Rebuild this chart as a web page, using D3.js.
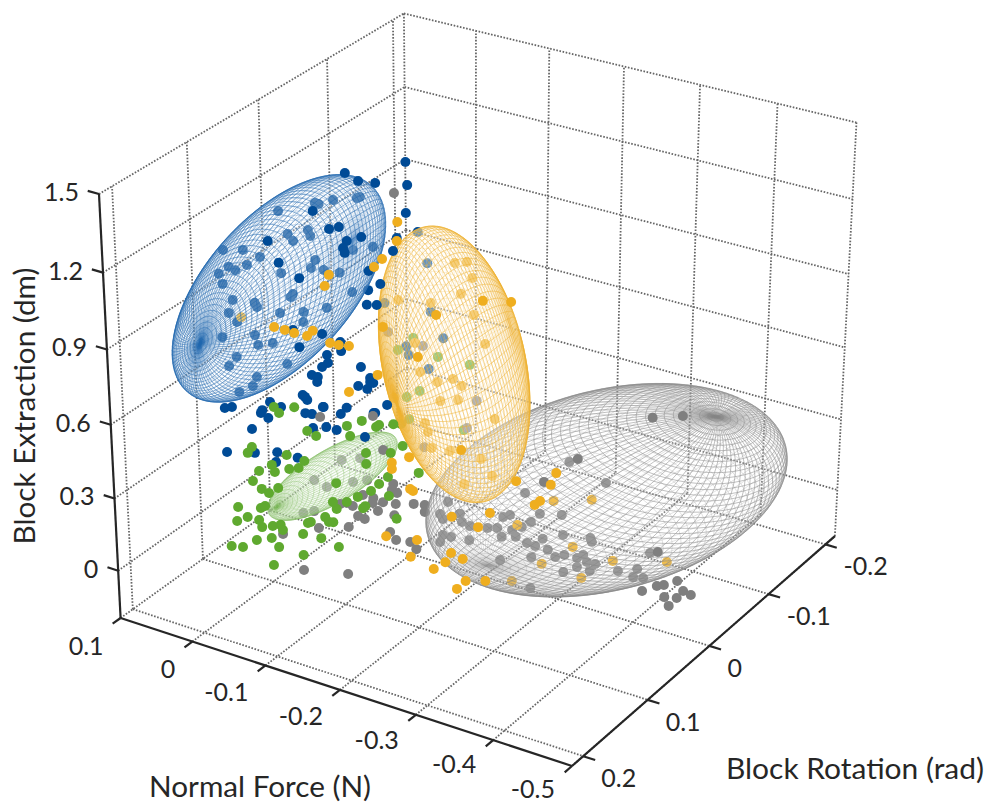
<!DOCTYPE html>
<html><head><meta charset="utf-8">
<script src="https://cdn.jsdelivr.net/npm/d3@7"></script>
<style>html,body{margin:0;background:#fff}svg{display:block}text{font-family:Lato,sans-serif;fill:#262626}</style>
</head><body><svg id="chart" width="988" height="803"></svg>
<script>
const xTicks = [0.1, 0, -0.1, -0.2, -0.3, -0.4, -0.5];
const yTicks = [0.2, 0.1, 0, -0.1, -0.2];
const zTicks = [0, 0.3, 0.6, 0.9, 1.2, 1.5];
const xLimits = [0.1, -0.5], yLimits = [0.217, -0.217], zLimits = [-0.2, 1.5];

// Every point is [normal force, block extraction]. Rotation can't be read off a flat
// picture, so each series sits on one estimated rotation.
const blueRotation = 0.1, greenRotation = 0.1, yellowRotation = 0, grayRotation = 0, grayNearRotation = 0.1;

const blueInsideBlue = [[0.056,1.114],[0.029,1.136],[0.006,1.127],[0.024,1.081],[0.049,1.053],[0.040,1.047],[0.063,1.014],[-0.020,1.326],[-0.032,1.247],[-0.039,1.225],
  [-0.059,1.284],[-0.062,1.263],[-0.069,1.396],[-0.074,1.396],[-0.093,1.426],[-0.124,1.458],[-0.128,1.465],[-0.068,1.175],[-0.062,1.139],[-0.022,1.086],
  [-0.079,1.145],[-0.100,1.151],[-0.118,1.254],[-0.144,1.287],[0.058,0.978],[0.045,0.925],[0.015,0.938],[0.012,0.924],[0.051,0.868],[0.040,0.841],
  [-0.037,1.016],[-0.034,1.002],[-0.116,1.089],[-0.137,1.114],[-0.019,0.926],[-0.051,0.957],[-0.082,0.999],[-0.050,0.916],[0.016,0.809],[0.012,0.772],
  [-0.008,0.797],[0.061,0.762],[0.042,0.698],[0.053,0.652],[-0.027,0.729],[0.015,0.640],[0.021,0.598],[0.040,0.557]];
const yellowInsideBlue = [[0.034,0.865]];
const blueOpen = [[-0.109,1.541],[-0.126,1.524],[-0.148,1.533],[-0.187,1.642],[-0.189,1.557],[-0.187,1.450],[-0.066,1.363],[-0.087,1.310],[-0.100,1.328],[-0.005,1.198],
  [-0.129,1.313],[-0.110,1.282],[-0.105,1.251],[-0.107,1.234],[-0.019,1.124],[-0.138,1.189],[-0.170,1.292],[-0.175,1.346],[-0.046,1.086],[-0.153,1.151],
  [-0.135,1.055],[-0.148,1.065],[-0.075,0.890],[-0.036,0.873],[-0.044,0.811],[-0.099,0.878],[-0.100,0.843],[-0.081,0.811],[-0.082,0.780],[-0.074,0.757],
  [-0.060,0.713],[-0.068,0.712],[-0.067,0.691],[-0.126,0.802],[-0.138,0.769],[-0.122,0.723],[-0.134,0.721],[-0.142,0.752],[-0.047,0.621],[-0.050,0.616],
  [-0.002,0.553],[-0.017,0.546],[-0.074,0.596],[-0.106,0.621],[0.051,0.486],[0.009,0.510],[0.061,0.473],[0.011,0.497],[0.001,0.485],[0.024,0.419],
  [-0.050,0.550],[-0.059,0.554],[-0.075,0.597],[-0.098,0.589],[-0.060,0.498],[-0.078,0.518],[-0.092,0.519],[-0.130,0.524],[0.060,0.291],[0.021,0.323],
  [-0.010,0.354],[-0.008,0.311],[-0.038,0.356],[-0.144,0.634],[-0.160,0.680],[-0.053,0.606],[-0.138,0.753],[-0.142,0.632]];
const yellowOpen = [[-0.085,1.160],[-0.084,1.084],[-0.064,0.996],[-0.053,0.955],[0.009,0.873],[0.015,0.823],[0.087,0.594],[0.072,0.595],[0.059,0.593],[0.041,0.596],
  [0.033,0.624],[0.009,0.594],[-0.003,0.596],[-0.017,0.604],[-0.056,0.518],[-0.016,0.412],[-0.074,0.166],[-0.074,0.140],[-0.098,0.212],[-0.099,0.078],
  [-0.103,0.073],[-0.065,-0.156],[-0.108,-0.132],[-0.099,-0.213],[-0.169,0.306],[-0.243,0.244],[-0.296,0.326],[-0.289,0.271],[-0.275,0.191],
  [-0.268,0.168],[-0.208,0.078],[-0.156,0.013],[-0.192,0.003],[-0.155,-0.143],[-0.147,-0.190],[-0.171,-0.153],[-0.131,-0.235],[-0.175,-0.244],
  [-0.163,-0.290],[-0.202,-0.218],[-0.198,0.939],[-0.235,0.965],[-0.136,0.831],[-0.111,0.639],[-0.064,0.722]];
const greenOpen = [[-0.007,0.537],[-0.014,0.519],[-0.035,0.561],[-0.052,0.479],[-0.064,0.469],[-0.106,0.548],[-0.126,0.586],[-0.145,0.578],[-0.149,0.590],[-0.110,0.510],
  [-0.168,0.610],[0.025,0.344],[0.031,0.314],[-0.023,0.354],[-0.002,0.294],[-0.006,0.268],[0.016,0.252],[-0.026,0.299],[-0.039,0.315],[-0.047,0.351],
  [0.025,0.202],[0.013,0.180],[0.003,0.172],[-0.010,0.205],[0.047,0.072],[0.015,0.098],[0.009,0.112],[0.034,0.042],[0.049,0.011],[0.018,0.044],
  [0.014,0.018],[-0.001,0.037],[-0.012,0.052],[-0.015,0.033],[-0.050,0.096],[-0.054,0.104],[-0.074,0.143],[-0.079,0.127],[-0.085,0.132],[-0.090,0.192],
  [-0.085,0.216],[-0.104,0.234],[-0.119,0.269],[-0.129,0.240],[-0.126,0.229],[-0.137,0.310],[-0.148,0.349],[-0.161,0.312],[-0.160,0.389],[-0.131,0.460],
  [-0.131,0.415],[-0.164,0.490],[-0.180,0.533],[-0.090,0.299],[-0.201,0.443],[-0.171,0.227],[0.022,-0.044],[0.001,-0.016],[0.058,-0.104],[0.042,-0.093],
  [-0.009,-0.045],[-0.043,0.043],[-0.068,0.049],[-0.092,0.035],[-0.043,-0.046],[-0.001,-0.129]];
const grayOpenNear = [[-0.172,1.514],[-0.070,0.552],[-0.141,0.619],[-0.154,0.493],[-0.015,0.016],[-0.065,0.089],[-0.106,0.132],[-0.043,-0.110],[-0.104,-0.068],
  [-0.167,0.366],[-0.165,0.340],[-0.172,0.334],[-0.153,0.279],[-0.140,0.284],[-0.139,0.263],[-0.112,0.225],[-0.104,0.230],[-0.146,0.236],[-0.170,0.287],
  [-0.194,0.310],[-0.119,0.190],[-0.128,0.186],[-0.168,0.239],[-0.095,0.217],[-0.162,0.164],[-0.170,0.138],[-0.189,0.148],[-0.197,0.126],[-0.126,0.283]];
const grayOpenFar = [[-0.324,0.410],[-0.280,0.275],[-0.430,0.125],[-0.411,-0.057],[-0.430,-0.017],[-0.439,-0.004],[-0.456,0.029],[-0.464,-0.005],[-0.474,-0.012],
  [-0.440,-0.054],[-0.456,-0.042],[-0.446,-0.085],[-0.419,0.662],[-0.457,0.703]];
const grayInsideGray = [[-0.313,0.387],[-0.361,0.345],[-0.255,0.206],[-0.151,0.071],[-0.119,0.029],[-0.119,-0.001],[-0.140,0.010],[-0.144,-0.008],[-0.167,0.036],
  [-0.170,0.004],[-0.181,-0.003],[-0.205,0.012],[-0.218,0.024],[-0.224,-0.008],[-0.238,0.034],[-0.243,0.010],[-0.226,0.078],[-0.235,0.095],[-0.263,0.092],
  [-0.275,0.137],[-0.304,0.160],[-0.251,0.059],[-0.306,0.078],[-0.279,0.036],[-0.342,0.099],[-0.344,0.085],[-0.258,-0.002],[-0.269,-0.004],
  [-0.286,-0.004],[-0.264,-0.056],[-0.296,-0.025],[-0.308,-0.005],[-0.325,-0.001],[-0.333,0.019],[-0.338,-0.005],[-0.349,-0.003],[-0.325,-0.039],
  [-0.342,-0.039],[-0.307,-0.078],[-0.379,-0.004],[-0.404,0.029],[-0.420,0.111],[-0.399,-0.010],[-0.412,-0.001],[-0.263,-0.189],[-0.140,-0.110],
  [-0.144,-0.076],[-0.155,-0.074],[-0.180,-0.064],[-0.222,-0.109]];
const yellowInsideGray = [[-0.293,0.208],[-0.343,0.259],[-0.245,0.062],[-0.319,0.040],[-0.278,-0.071],[-0.372,0.032],[-0.442,0.095],[-0.238,-0.183],[-0.331,-0.080]];
const blueInsideYellow = [[-0.214,1.281],[-0.218,1.097],[-0.234,1.008],[-0.186,0.936],[-0.189,0.904],[-0.158,1.081],[-0.215,0.871],[-0.202,1.390]];
const greenInsideYellow = [[-0.195,0.976],[-0.175,0.912],[-0.227,0.929],[-0.268,0.933],[-0.203,0.774],[-0.186,0.735],[-0.189,0.649],[-0.178,0.620],[-0.260,0.669]];
const grayInsideYellow = [[-0.071,0.707],[-0.118,0.690],[-0.190,0.528],[-0.177,0.405],[-0.119,0.273]];
const yellowInsideYellow = [[-0.161,1.059],[-0.177,1.076],[-0.184,1.018],[-0.169,0.943],[-0.129,0.873],[-0.085,0.849],[-0.186,0.873],[-0.201,0.769],[-0.107,0.693],[-0.114,0.580],
  [-0.137,0.559],[-0.158,0.590],[-0.170,0.572],[-0.141,0.484],[-0.165,0.510],[-0.078,0.442],[-0.120,0.375],[-0.214,0.475],[-0.124,0.341],[-0.129,0.279],
  [-0.154,0.289],[-0.196,0.293],[-0.211,0.236],[-0.173,0.167]];
const grayInsideGreen = [[-0.077,0.271],[-0.060,0.284],[-0.098,0.402],[-0.123,0.432],[-0.113,0.325],[-0.132,0.350],[-0.044,0.132],[-0.059,0.154]];

// Ellipsoids: centre and three semi-axes as [force, rotation, extraction]; the last axis is the mesh pole.
const blueCentre = [-0.014, 0.1, 1.003], blueAxes = [[-0.131,0.03,0.316],[0.033,-0.03,-0.452],[0.086,0.02,-0.239]];
const grayCentre = [-0.351, 0, 0.291], grayAxes = [[-0.207,0.03,0.170],[0.022,-0.03,-0.386],[-0.162,0.02,0.498]];
const yellowCentre = [-0.159, 0, 0.644], yellowAxes = [[-0.094,0.03,-0.290],[0.027,-0.03,-0.408],[0.058,0.02,-0.176]];
const greenCentre = [-0.084, 0.1, 0.319], greenAxes = [[-0.066,0.02,0.154],[0.020,-0.02,-0.182],[0.057,0.02,-0.136]];

const colors = { blue: '#004b96', yellow: '#efae1f', green: '#5fa92f', gray: '#7f7f7f' };
const meshColors = { blue: '#1f66ad', yellow: '#edb02e', green: '#7cb85a', gray: '#858585' };

const xScale = d3.scaleLinear().domain(xLimits).range([0, 1]);
const yScale = d3.scaleLinear().domain(yLimits).range([0, 1]);
const zScale = d3.scaleLinear().domain(zLimits).range([0, 1]);

// Perspective view of the unit cube, fixed by four corners and a foreshortening weight per edge.
const cornerO = [120.6, 618], cornerX = [572, 766], cornerY = [407.5, 412], cornerZ = [99, 194];
const wX = 0.945, wY = 1.09, wZ = 0.942;
function project(x, y, z) {
  const u = xScale(x), v = yScale(y), w = zScale(z);
  const d = 1 + u * (wX - 1) + v * (wY - 1) + w * (wZ - 1);
  return [0, 1].map(i => (cornerO[i] + u * (wX * cornerX[i] - cornerO[i]) + v * (wY * cornerY[i] - cornerO[i]) + w * (wZ * cornerZ[i] - cornerO[i])) / d);
}

const svg = d3.select('#chart');
function segment(g, a, b) {
  const p = project(...a), q = project(...b);
  g.append('line').attr('x1', p[0]).attr('y1', p[1]).attr('x2', q[0]).attr('y2', q[1]);
}

const [x0, x1] = xLimits, [y0, y1] = yLimits, [z0, z1] = zLimits;
const grid = svg.append('g').attr('stroke', '#666').attr('stroke-width', 1.8).attr('stroke-dasharray', '1.6 1.6');
xTicks.forEach(t => { segment(grid, [t, y0, z0], [t, y1, z0]); segment(grid, [t, y1, z0], [t, y1, z1]); });
yTicks.forEach(t => { segment(grid, [x0, t, z0], [x1, t, z0]); segment(grid, [x0, t, z0], [x0, t, z1]); });
zTicks.forEach(t => { segment(grid, [x0, y0, t], [x0, y1, t]); segment(grid, [x0, y1, t], [x1, y1, t]); });

const axes = svg.append('g').attr('stroke', '#262626').attr('stroke-width', 2.2);
segment(axes, [x0, y0, z0], [x0, y0, z1]);
segment(axes, [x0, y0, z0], [x1, y0, z0]);
segment(axes, [x1, y0, z0], [x1, y1, z0]);
const tickX = 0.015, tickY = 0.011;
xTicks.forEach(t => segment(axes, [t, y0, z0], [t, y0 + tickY, z0]));
yTicks.forEach(t => segment(axes, [x1, t, z0], [x1 - tickX, t, z0]));
zTicks.forEach(t => segment(axes, [x0, y0, t], [x0 + tickX, y0, t]));

function tickLabel(value, p, anchor, dx, dy) {
  svg.append('text').text(value).attr('x', p[0] + dx).attr('y', p[1] + dy)
    .attr('text-anchor', anchor).attr('dominant-baseline', 'central').attr('font-size', 25);
}
xTicks.forEach((t, i) => tickLabel(t, project(t, y0, z0), 'end', -17, 27 - i * 0.8));
yTicks.forEach(t => tickLabel(t, project(x1, t, z0), 'start', 18, 21));
zTicks.forEach(t => tickLabel(t, project(x0, y0, t), 'end', -20, -3));

function axisTitle(label, x, y, angle, length) {
  svg.append('text').text(label).attr('text-anchor', 'middle').attr('dominant-baseline', 'central')
    .attr('font-size', 28).attr('textLength', length).attr('lengthAdjust', 'spacingAndGlyphs')
    .attr('transform', `translate(${x},${y}) rotate(${angle})`);
}
axisTitle('Block Extraction (dm)', 24, 406, -90, 277);
axisTitle('Normal Force (N)', 260, 786, 0, 222);
axisTitle('Block Rotation (rad)', 855, 768, 0, 258);

function dots(points, rotation, color) {
  svg.append('g').selectAll('circle').data(points).join('circle')
    .attr('cx', d => project(d[0], rotation, d[1])[0])
    .attr('cy', d => project(d[0], rotation, d[1])[1])
    .attr('r', 5).attr('fill', color);
}

function ellipsoid(centre, semiAxes, color, opts = {}) {
  const { meridians = 90, parallels = 60, width = 0.6, veil = 0.3, backOpacity = 0.5, frontOpacity = 0.85 } = opts;
  const at = n => project(...[0, 1, 2].map(k => centre[k] + n[0] * semiAxes[0][k] + n[1] * semiAxes[1][k] + n[2] * semiAxes[2][k]));
  const c = at([0, 0, 0]);
  const col = [[1, 0, 0], [0, 1, 0], [0, 0, 1]].map(n => { const e = at(n); return [e[0] - c[0], e[1] - c[1]]; });
  // View direction in sphere coordinates; the pole axis always faces the viewer.
  let view = [col[1][0] * col[2][1] - col[2][0] * col[1][1], col[2][0] * col[0][1] - col[0][0] * col[2][1], col[0][0] * col[1][1] - col[1][0] * col[0][1]];
  if (view[2] < 0) view = view.map(a => -a);
  const front = d3.path(), back = d3.path(), outline = [];
  const sphere = (i, j) => {
    const t = 2 * Math.PI * i / meridians, f = Math.PI * j / parallels;
    return [Math.sin(f) * Math.cos(t), Math.sin(f) * Math.sin(t), Math.cos(f)];
  };
  const edge = (a, b) => {
    const facing = (a[0] + b[0]) * view[0] + (a[1] + b[1]) * view[1] + (a[2] + b[2]) * view[2];
    const path = facing >= 0 ? front : back, p = at(a), q = at(b);
    path.moveTo(p[0], p[1]); path.lineTo(q[0], q[1]);
    outline.push(p);
  };
  for (let i = 0; i < meridians; i++) {
    for (let j = 0; j < parallels; j++) {
      edge(sphere(i, j), sphere(i, j + 1));
      if (j > 0) edge(sphere(i, j), sphere(i + 1, j));
    }
  }
  const g = svg.append('g').attr('fill', 'none').attr('stroke', color).attr('stroke-width', width);
  g.append('path').attr('d', back.toString()).attr('opacity', backOpacity);
  g.append('path').attr('d', 'M' + d3.polygonHull(outline).join('L') + 'Z').attr('fill', '#fff').attr('fill-opacity', veil).attr('stroke', 'none');
  g.append('path').attr('d', front.toString()).attr('opacity', frontOpacity);
}

dots(blueInsideBlue, blueRotation, colors.blue);
dots(yellowInsideBlue, blueRotation, colors.yellow);
ellipsoid(blueCentre, blueAxes, meshColors.blue);

dots(grayInsideGray, grayRotation, colors.gray);
dots(yellowInsideGray, grayRotation, colors.yellow);
ellipsoid(grayCentre, grayAxes, meshColors.gray, { veil: 0.2 });

dots(blueInsideYellow, blueRotation, colors.blue);
dots(greenInsideYellow, greenRotation, colors.green);
dots(grayInsideYellow, yellowRotation, colors.gray);
dots(yellowInsideYellow, yellowRotation, colors.yellow);
ellipsoid(yellowCentre, yellowAxes, meshColors.yellow, { veil: 0.4 });

dots(grayInsideGreen, grayNearRotation, colors.gray);
ellipsoid(greenCentre, greenAxes, meshColors.green, { meridians: 60, parallels: 34, width: 0.5, veil: 0.4, backOpacity: 0.35, frontOpacity: 0.7 });

dots(blueOpen, blueRotation, colors.blue);
dots(grayOpenNear, grayNearRotation, colors.gray);
dots(grayOpenFar, grayRotation, colors.gray);
dots(greenOpen, greenRotation, colors.green);
dots(yellowOpen, yellowRotation, colors.yellow);
</script></body></html>
